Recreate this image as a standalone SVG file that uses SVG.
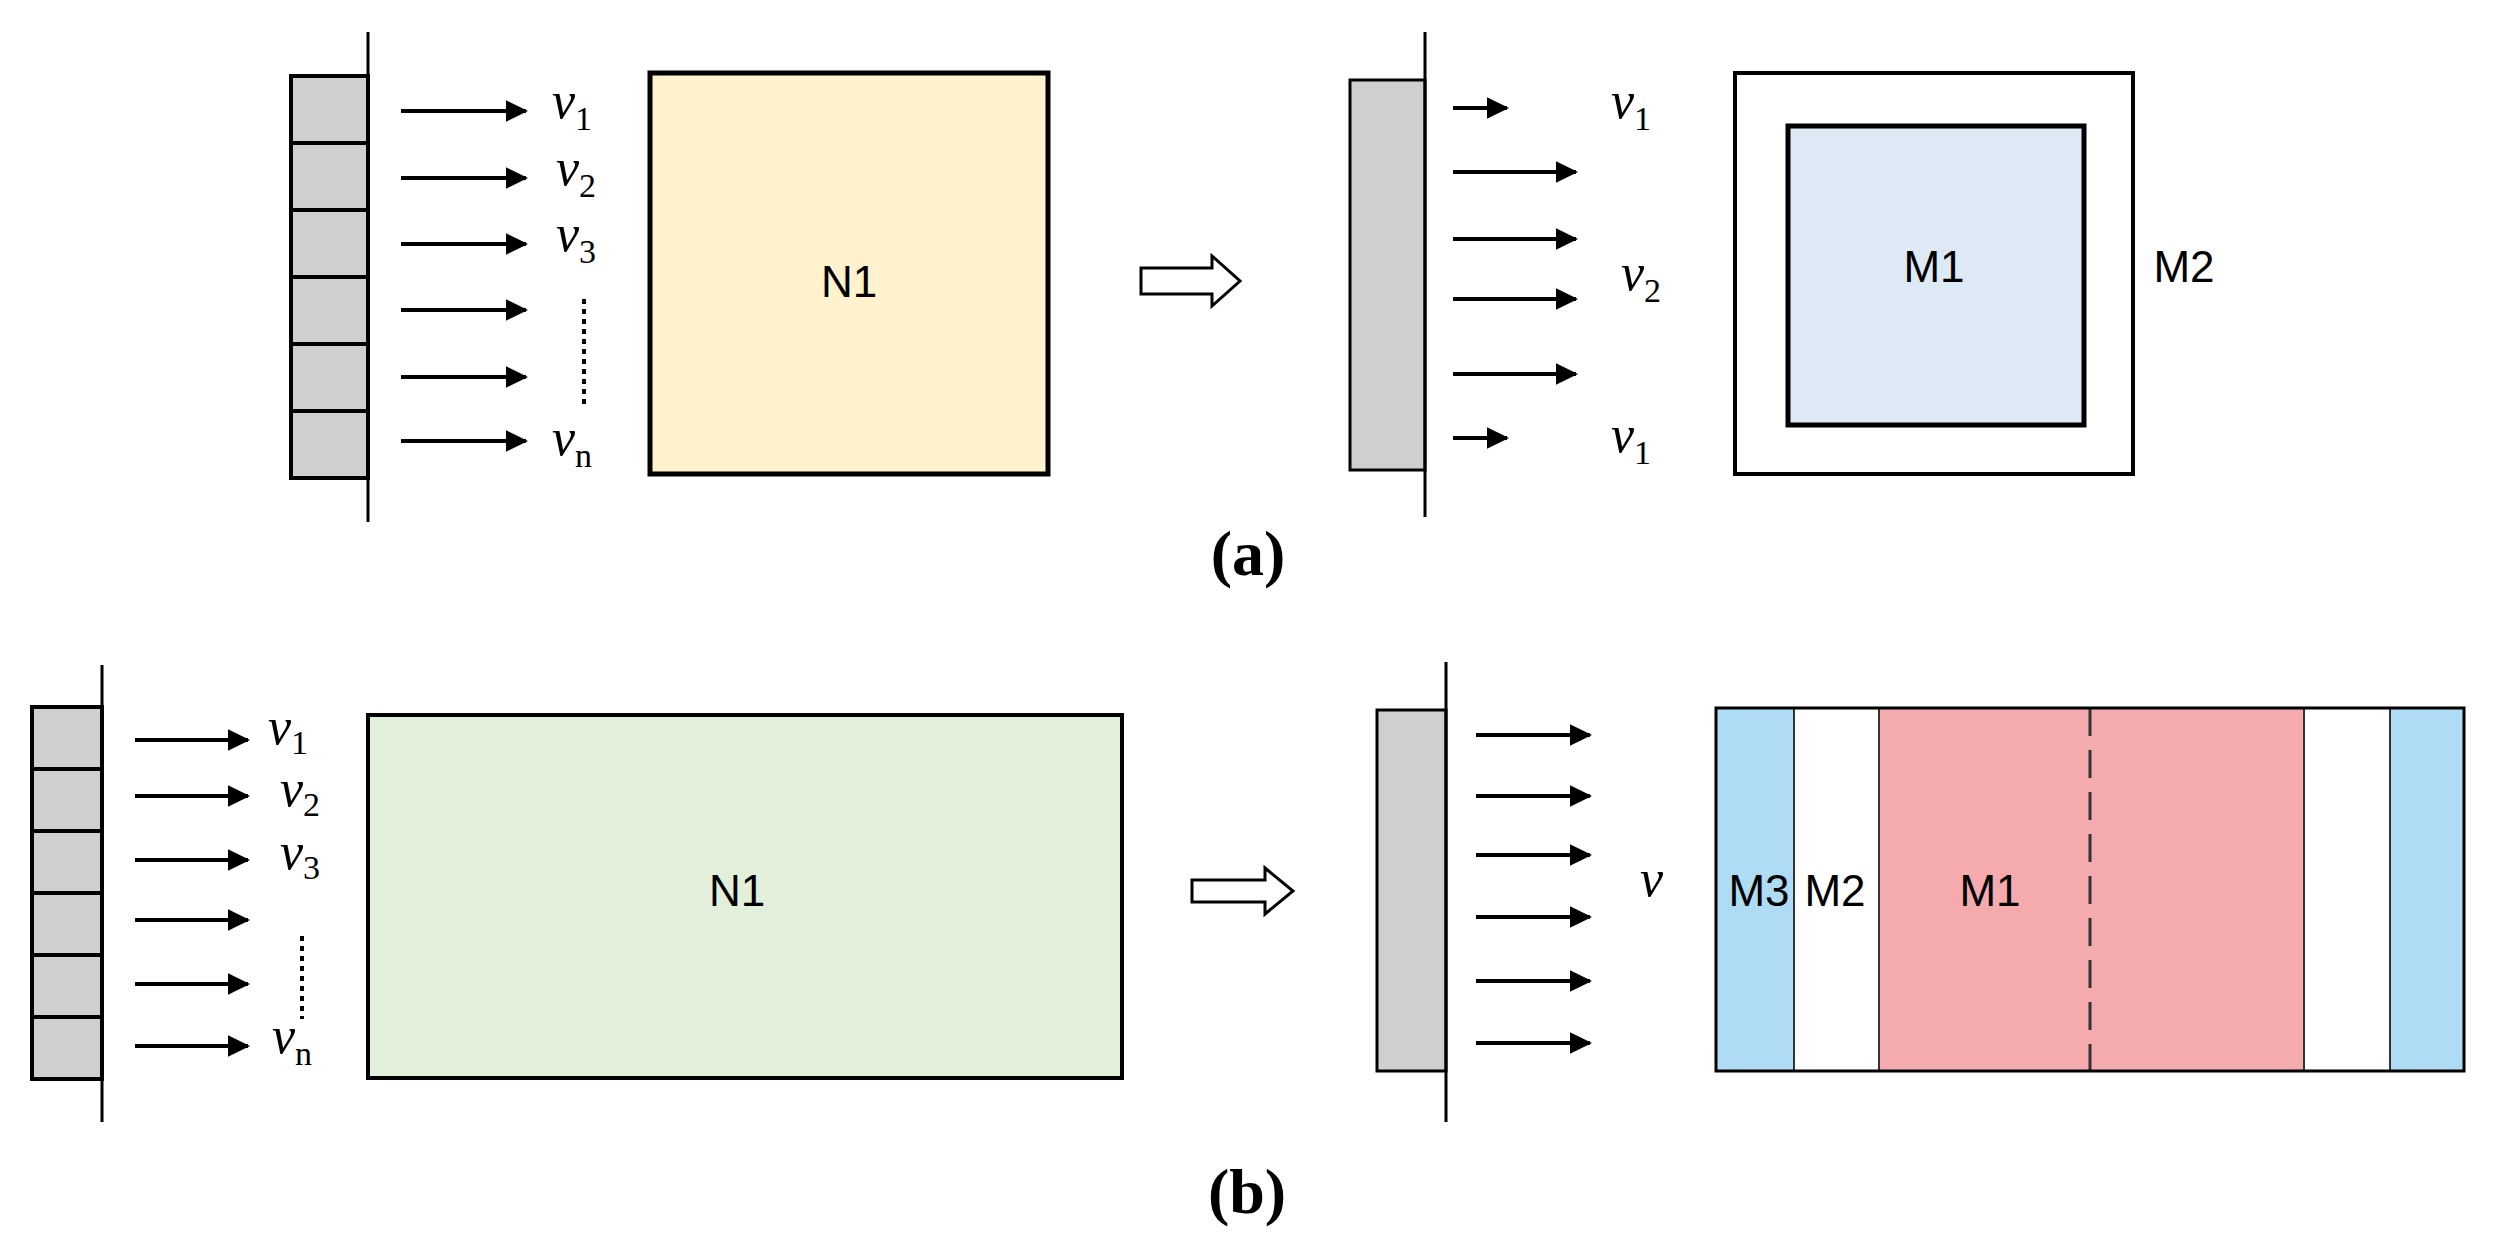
<svg xmlns="http://www.w3.org/2000/svg" width="2496" height="1253" viewBox="0 0 2496 1253">
<style>
.wall{stroke:#000;stroke-width:3;fill:none}
.cell{fill:#d0cfd0;stroke:#000;stroke-width:4}
.arr{stroke:#000;stroke-width:4;marker-end:url(#ah)}
.v{font-family:"Liberation Serif",serif;font-style:italic;font-size:52px}
.sub{font-family:"Liberation Serif",serif;font-style:normal;font-size:34px}
.lbl{font-family:"Liberation Sans",sans-serif;font-size:44px;text-anchor:middle}
.cap{font-family:"Liberation Serif",serif;font-weight:bold;font-size:64px;text-anchor:middle}
.dot{stroke:#000;stroke-width:4;stroke-dasharray:5 5}
</style>
<defs>
<marker id="ah" markerWidth="7" markerHeight="7" refX="5" refY="3.5" orient="auto" markerUnits="strokeWidth"><path d="M0,0.8 L5.5,3.5 L0,6.2 Z" fill="#000"/></marker>
</defs>
<rect width="2496" height="1253" fill="#fff"/>
<g id="a-source">
<rect class="cell" x="291" y="76" width="77" height="67"/><rect class="cell" x="291" y="143" width="77" height="67"/><rect class="cell" x="291" y="210" width="77" height="67"/><rect class="cell" x="291" y="277" width="77" height="67"/><rect class="cell" x="291" y="344" width="77" height="67"/><rect class="cell" x="291" y="411" width="77" height="67"/>
<line class="wall" x1="368" y1="32" x2="368" y2="522"/>
</g>
<g id="a-N1"><rect x="650" y="73" width="398" height="401" fill="#fff2cc" stroke="#000" stroke-width="5"/><text class="lbl" x="849" y="297">N1</text></g>
<g id="a-hollow"><path d="M1141,268 L1212,268 L1212,256 L1240,281 L1212,306 L1212,294 L1141,294 Z" fill="#fff" stroke="#000" stroke-width="3"/></g>
<g id="a-target">
<rect x="1350" y="80" width="75" height="390" fill="#d0cfd0" stroke="#000" stroke-width="3"/>
<line class="wall" x1="1425" y1="32" x2="1425" y2="517"/>
</g>
<g id="a-M"><rect x="1735" y="73" width="398" height="401" fill="#fff" stroke="#000" stroke-width="4"/><rect x="1788" y="126" width="296" height="299" fill="#dde9f5" stroke="#000" stroke-width="5"/><text class="lbl" x="1934" y="282">M1</text><text class="lbl" x="2184" y="282">M2</text></g>
<g id="b-source">
<rect class="cell" x="32" y="707" width="70" height="62"/><rect class="cell" x="32" y="769" width="70" height="62"/><rect class="cell" x="32" y="831" width="70" height="62"/><rect class="cell" x="32" y="893" width="70" height="62"/><rect class="cell" x="32" y="955" width="70" height="62"/><rect class="cell" x="32" y="1017" width="70" height="62"/>
<line class="wall" x1="102" y1="665" x2="102" y2="1122"/>
</g>
<g id="b-N1"><rect x="368" y="715" width="754" height="363" fill="#e2efda" stroke="#000" stroke-width="4"/><text class="lbl" x="737" y="906">N1</text></g>
<g id="b-hollow"><path d="M1192,880 L1265,880 L1265,868 L1293,891 L1265,914 L1265,902 L1192,902 Z" fill="#fff" stroke="#000" stroke-width="3"/></g>
<g id="b-target">
<rect x="1377" y="710" width="69" height="361" fill="#d0cfd0" stroke="#000" stroke-width="3"/>
<line class="wall" x1="1446" y1="662" x2="1446" y2="1122"/>
</g>
<g id="b-M">
<rect x="1716" y="708" width="78" height="363" fill="#aedcf4"/>
<rect x="1879" y="708" width="425" height="363" fill="#f5aaae"/>
<rect x="2390" y="708" width="74" height="363" fill="#aedcf4"/>
<g stroke="#333" stroke-width="2"><line x1="1794" y1="708" x2="1794" y2="1071"/><line x1="1879" y1="708" x2="1879" y2="1071"/><line x1="2304" y1="708" x2="2304" y2="1071"/><line x1="2390" y1="708" x2="2390" y2="1071"/><line x1="2090" y1="708" x2="2090" y2="1071" stroke-dasharray="28 14" stroke-width="3"/></g>
<rect x="1716" y="708" width="748" height="363" fill="none" stroke="#000" stroke-width="3"/>
<text class="lbl" x="1759" y="906">M3</text><text class="lbl" x="1835" y="906">M2</text><text class="lbl" x="1990" y="906">M1</text>
</g>
<g id="connectors">
<line class="arr" x1="401" y1="111" x2="526" y2="111"/><line class="arr" x1="401" y1="178" x2="526" y2="178"/><line class="arr" x1="401" y1="244" x2="526" y2="244"/><line class="arr" x1="401" y1="310" x2="526" y2="310"/><line class="arr" x1="401" y1="377" x2="526" y2="377"/><line class="arr" x1="401" y1="441" x2="526" y2="441"/>
<line class="dot" x1="584" y1="299" x2="584" y2="406"/>
<line class="arr" x1="1453" y1="108" x2="1507" y2="108"/><line class="arr" x1="1453" y1="172" x2="1576" y2="172"/><line class="arr" x1="1453" y1="239" x2="1576" y2="239"/><line class="arr" x1="1453" y1="299" x2="1576" y2="299"/><line class="arr" x1="1453" y1="374" x2="1576" y2="374"/><line class="arr" x1="1453" y1="438" x2="1507" y2="438"/>
<line class="arr" x1="135" y1="740" x2="248" y2="740"/><line class="arr" x1="135" y1="796" x2="248" y2="796"/><line class="arr" x1="135" y1="860" x2="248" y2="860"/><line class="arr" x1="135" y1="920" x2="248" y2="920"/><line class="arr" x1="135" y1="984" x2="248" y2="984"/><line class="arr" x1="135" y1="1046" x2="248" y2="1046"/>
<line class="dot" x1="302" y1="936" x2="302" y2="1019"/>
<line class="arr" x1="1476" y1="735" x2="1590" y2="735"/><line class="arr" x1="1476" y1="796" x2="1590" y2="796"/><line class="arr" x1="1476" y1="855" x2="1590" y2="855"/><line class="arr" x1="1476" y1="917" x2="1590" y2="917"/><line class="arr" x1="1476" y1="981" x2="1590" y2="981"/><line class="arr" x1="1476" y1="1043" x2="1590" y2="1043"/>
</g>
<g id="labels">
<text class="v" x="552" y="118">v<tspan class="sub" dy="12">1</tspan></text>
<text class="v" x="556" y="185">v<tspan class="sub" dy="12">2</tspan></text>
<text class="v" x="556" y="251">v<tspan class="sub" dy="12">3</tspan></text>
<text class="v" x="552" y="455">v<tspan class="sub" dy="12">n</tspan></text>
<text class="v" x="1611" y="118">v<tspan class="sub" dy="12">1</tspan></text>
<text class="v" x="1621" y="290">v<tspan class="sub" dy="12">2</tspan></text>
<text class="v" x="1611" y="452">v<tspan class="sub" dy="12">1</tspan></text>
<text class="v" x="268" y="744">v<tspan class="sub" dy="10">1</tspan></text>
<text class="v" x="280" y="806">v<tspan class="sub" dy="10">2</tspan></text>
<text class="v" x="280" y="869">v<tspan class="sub" dy="10">3</tspan></text>
<text class="v" x="272" y="1053">v<tspan class="sub" dy="12">n</tspan></text>
<text class="v" x="1640" y="896">v</text>
<text class="cap" x="1248" y="575">(a)</text>
<text class="cap" x="1247" y="1213">(b)</text>
</g>
</svg>
